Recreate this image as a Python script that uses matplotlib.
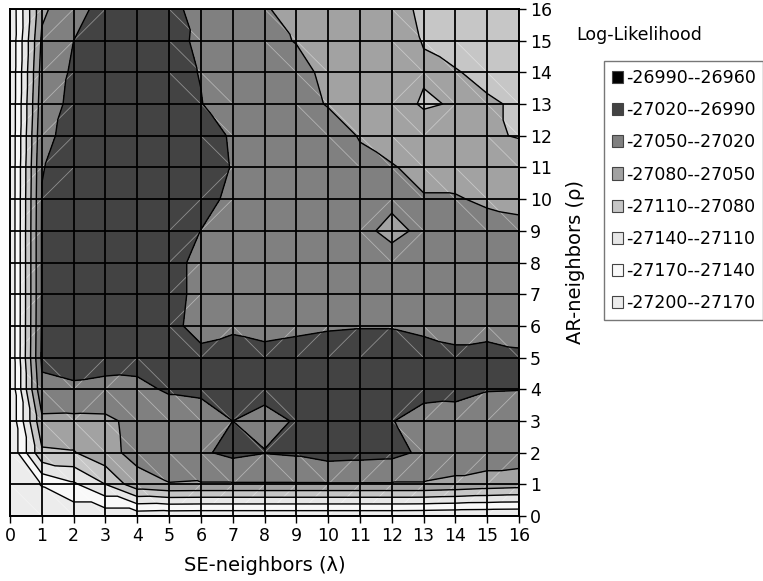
import numpy as np
import matplotlib
matplotlib.use("Agg")
import matplotlib.pyplot as plt
import matplotlib.tri as mtri
from matplotlib.collections import LineCollection
from matplotlib.patches import Patch

# grid axes
lam = list(range(17))   # SE-neighbors
rho = list(range(17))   # AR-neighbors

# log-likelihood, one list per rho row (lambda = 0..16)
ll_rho_00 = [-27199, -27197, -27190, -27190, -27190, -27193, -27194, -27194, -27194,
             -27194, -27194, -27194, -27194, -27195, -27197, -27198, -27199]
ll_rho_01 = [-27198, -27168, -27145, -27110, -27060, -27051, -27052, -27052, -27052,
             -27052, -27052, -27052, -27052, -27052, -27056, -27062, -27066]
ll_rho_02 = [-27198, -27085, -27082, -27058, -27042, -27035, -27024, -27013, -27019,
             -27016, -27008, -27010, -27012, -27025, -27034, -27034, -27034]
ll_rho_03 = [-27198, -27057, -27058, -27057, -27040, -27030, -27030, -27020, -27028,
             -27018, -27012, -27011, -27019, -27030, -27029, -27032, -27034]
ll_rho_04 = [-27198, -27026, -27023, -27025, -27024, -27018, -27016, -27012, -27012,
             -27010, -27008, -27008, -27010, -27012, -27014, -27019, -27019.5]
ll_rho_05 = [-27198, -27015, -27012, -27013, -27014, -27010, -27016, -27012, -27014,
             -27012, -27010, -27010, -27010, -27012, -27016, -27014, -27017]
ll_rho_06 = [-27198, -27017, -27010, -27008, -27009, -27016, -27025, -27023, -27026,
             -27024, -27022, -27021, -27021, -27024, -27026, -27026, -27027]
ll_rho_07 = [-27198, -27018, -27009, -27006, -27006, -27015, -27024, -27028, -27030,
             -27031, -27030, -27030, -27031, -27032, -27033, -27034, -27034]
ll_rho_08 = [-27198, -27018, -27008, -27005, -27005, -27015, -27024, -27030, -27034,
             -27036, -27037, -27040, -27042, -27041, -27040, -27039, -27040]
ll_rho_09 = [-27198, -27018, -27008, -27005, -27004, -27011, -27020.2, -27027, -27035,
             -27038, -27041, -27045, -27055, -27046, -27044, -27045, -27047]
ll_rho_10 = [-27198, -27019, -27008, -27005, -27004, -27009, -27014, -27024, -27033,
             -27038, -27042, -27045, -27046, -27049, -27049, -27052, -27053]
ll_rho_11 = [-27198, -27021, -27010, -27006, -27005, -27008, -27010, -27021, -27030,
             -27036, -27040, -27046, -27049, -27054, -27055, -27058, -27060]
ll_rho_12 = [-27198, -27026, -27012, -27007, -27006, -27008, -27012, -27022, -27030,
             -27036, -27042, -27051, -27056, -27065, -27070, -27076, -27082]
ll_rho_13 = [-27198, -27032, -27014, -27008, -27007, -27010, -27019, -27035, -27040,
             -27044, -27051, -27058, -27068, -27083, -27078, -27078, -27082]
ll_rho_14 = [-27198, -27038, -27016, -27009, -27008, -27012, -27021, -27038, -27044,
             -27046, -27053, -27062, -27068, -27077, -27079, -27084, -27088]
ll_rho_15 = [-27198, -27045, -27020, -27010, -27009, -27013, -27024, -27036, -27047,
             -27050.5, -27058, -27064, -27070, -27081, -27086, -27089, -27091]
ll_rho_16 = [-27197, -27056, -27028, -27012, -27008, -27012, -27030, -27038, -27048,
             -27058, -27065, -27070, -27074, -27083, -27088, -27090, -27092]

levels = [-27200, -27170, -27140, -27110, -27080, -27050, -27020, -26990, -26960]
band_colors = ["#ececec", "#f9f9f9", "#e6e6e6", "#c6c6c6",
               "#a2a2a2", "#808080", "#434343", "#000000"]

z = np.array([
    ll_rho_00, ll_rho_01, ll_rho_02, ll_rho_03, ll_rho_04, ll_rho_05,
    ll_rho_06, ll_rho_07, ll_rho_08, ll_rho_09, ll_rho_10, ll_rho_11,
    ll_rho_12, ll_rho_13, ll_rho_14, ll_rho_15, ll_rho_16,
], dtype=float)

X, Y = np.meshgrid(lam, rho)
xf, yf, zf = X.ravel(), Y.ravel(), z.ravel()
nx = len(lam)

# split every cell in two triangles along the flatter diagonal
tris = []
seams = []
for j in range(len(rho) - 1):
    for i in range(nx - 1):
        a = j * nx + i
        b = a + 1
        d = a + nx
        c = d + 1
        if abs(zf[a] - zf[c]) <= abs(zf[b] - zf[d]):
            tris += [[a, b, c], [a, c, d]]
            diag = (a, c)
        else:
            tris += [[a, b, d], [b, c, d]]
            diag = (b, d)
        bands = np.digitize(zf[[a, b, c, d]], levels)
        if len(set(bands)) > 1:
            seams.append([(xf[diag[0]], yf[diag[0]]),
                          (xf[diag[1]], yf[diag[1]])])

tri = mtri.Triangulation(xf, yf, tris)

fig = plt.figure(figsize=(7.63, 5.81), dpi=100)
ax = fig.add_axes([10 / 763, 1 - 516 / 581, 509 / 763, 507 / 581])

ax.tricontourf(tri, zf, levels=levels, colors=band_colors)
ax.add_collection(LineCollection(seams, colors="white", linewidths=0.6,
                                 alpha=0.4, zorder=1.5))
ax.tricontour(tri, zf, levels=levels, colors="black", linewidths=1.0,
              linestyles="solid")

ax.set_xlim(0, 16)
ax.set_ylim(0, 16)
ax.set_xticks(lam)
ax.set_yticks(rho)
ax.grid(True, color="black", linewidth=1.3)
ax.set_axisbelow(False)
for s in ax.spines.values():
    s.set_linewidth(1.4)
    s.set_color("black")

ax.yaxis.tick_right()
ax.yaxis.set_label_position("right")
ax.tick_params(axis="both", direction="out", length=5, width=1,
               labelsize=12.5, pad=3)
ax.set_xlabel("SE-neighbors (λ)", fontsize=14, labelpad=8)
ax.set_ylabel("AR-neighbors (ρ)", fontsize=14, labelpad=10)

# legend, highest band first
handles = []
for lo, hi, col in reversed(list(zip(levels[:-1], levels[1:], band_colors))):
    handles.append(Patch(facecolor=col, edgecolor="#444444", linewidth=0.8,
                         label=f"{lo}-{hi}"))
leg = fig.legend(handles=handles, loc="upper left",
                 bbox_to_anchor=(604 / 763, 1 - 61 / 581),
                 fontsize=12.5, frameon=True, fancybox=False,
                 handlelength=0.65, handleheight=0.7, handletextpad=0.15,
                 labelspacing=0.82, borderpad=0.45, borderaxespad=0)
leg.get_frame().set_edgecolor("#555555")
leg.get_frame().set_linewidth(1.0)

fig.text(576 / 763, 1 - 35 / 581, "Log-Likelihood", fontsize=12.5,
         va="center", ha="left")

fig.savefig("out.png", dpi=100)
